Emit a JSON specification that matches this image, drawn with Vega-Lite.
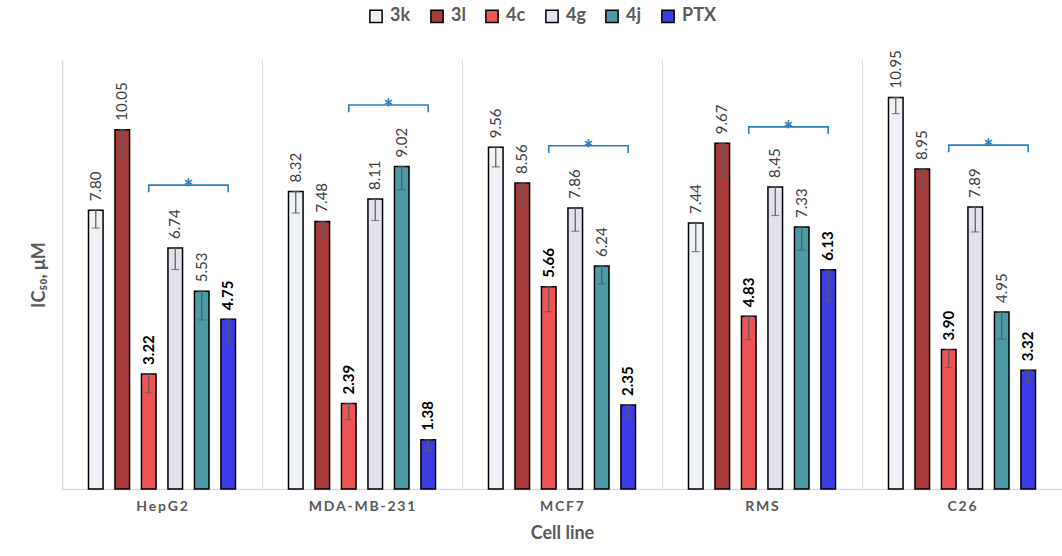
{
  "$schema": "https://vega.github.io/schema/vega-lite/v6.json",
  "width": 1000,
  "height": 429,
  "autosize": {"type": "none"},
  "padding": {"left": 62, "top": 60, "right": 0, "bottom": 67},
  "background": "white",
  "config": {"view": {"stroke": null}, "font": "Lato"},
  "datasets": {
    "bars": [
      {"cell": "HepG2", "compound": "3k", "value": 7.80, "lo": 7.30},
      {"cell": "HepG2", "compound": "3l", "value": 10.05, "lo": 9.30},
      {"cell": "HepG2", "compound": "4c", "value": 3.22, "lo": 2.69},
      {"cell": "HepG2", "compound": "4g", "value": 6.74, "lo": 6.14},
      {"cell": "HepG2", "compound": "4j", "value": 5.53, "lo": 4.73},
      {"cell": "HepG2", "compound": "PTX", "value": 4.75, "lo": 4.08},
      {"cell": "MDA-MB-231", "compound": "3k", "value": 8.32, "lo": 7.72},
      {"cell": "MDA-MB-231", "compound": "3l", "value": 7.48, "lo": 7.08},
      {"cell": "MDA-MB-231", "compound": "4c", "value": 2.39, "lo": 1.94},
      {"cell": "MDA-MB-231", "compound": "4g", "value": 8.11, "lo": 7.51},
      {"cell": "MDA-MB-231", "compound": "4j", "value": 9.02, "lo": 8.37},
      {"cell": "MDA-MB-231", "compound": "PTX", "value": 1.38, "lo": 1.08},
      {"cell": "MCF7", "compound": "3k", "value": 9.56, "lo": 9.01},
      {"cell": "MCF7", "compound": "3l", "value": 8.56, "lo": 7.96},
      {"cell": "MCF7", "compound": "4c", "value": 5.66, "lo": 4.96},
      {"cell": "MCF7", "compound": "4g", "value": 7.86, "lo": 7.21},
      {"cell": "MCF7", "compound": "4j", "value": 6.24, "lo": 5.74},
      {"cell": "MCF7", "compound": "PTX", "value": 2.35, "lo": 1.95},
      {"cell": "RMS", "compound": "3k", "value": 7.44, "lo": 6.64},
      {"cell": "RMS", "compound": "3l", "value": 9.67, "lo": 8.67},
      {"cell": "RMS", "compound": "4c", "value": 4.83, "lo": 4.18},
      {"cell": "RMS", "compound": "4g", "value": 8.45, "lo": 7.65},
      {"cell": "RMS", "compound": "4j", "value": 7.33, "lo": 6.68},
      {"cell": "RMS", "compound": "PTX", "value": 6.13, "lo": 5.28},
      {"cell": "C26", "compound": "3k", "value": 10.95, "lo": 10.50},
      {"cell": "C26", "compound": "3l", "value": 8.95, "lo": 8.45},
      {"cell": "C26", "compound": "4c", "value": 3.90, "lo": 3.40},
      {"cell": "C26", "compound": "4g", "value": 7.89, "lo": 7.19},
      {"cell": "C26", "compound": "4j", "value": 4.95, "lo": 4.20},
      {"cell": "C26", "compound": "PTX", "value": 3.32, "lo": 2.97}
    ],
    "brackets": [
      {"cell": "HepG2", "compound": "4c", "y": 8.30, "ord": 1},
      {"cell": "HepG2", "compound": "4c", "y": 8.50, "ord": 2},
      {"cell": "HepG2", "compound": "PTX", "y": 8.50, "ord": 3},
      {"cell": "HepG2", "compound": "PTX", "y": 8.30, "ord": 4},
      {"cell": "MDA-MB-231", "compound": "4c", "y": 10.54, "ord": 1},
      {"cell": "MDA-MB-231", "compound": "4c", "y": 10.74, "ord": 2},
      {"cell": "MDA-MB-231", "compound": "PTX", "y": 10.74, "ord": 3},
      {"cell": "MDA-MB-231", "compound": "PTX", "y": 10.54, "ord": 4},
      {"cell": "MCF7", "compound": "4c", "y": 9.40, "ord": 1},
      {"cell": "MCF7", "compound": "4c", "y": 9.60, "ord": 2},
      {"cell": "MCF7", "compound": "PTX", "y": 9.60, "ord": 3},
      {"cell": "MCF7", "compound": "PTX", "y": 9.40, "ord": 4},
      {"cell": "RMS", "compound": "4c", "y": 9.93, "ord": 1},
      {"cell": "RMS", "compound": "4c", "y": 10.13, "ord": 2},
      {"cell": "RMS", "compound": "PTX", "y": 10.13, "ord": 3},
      {"cell": "RMS", "compound": "PTX", "y": 9.93, "ord": 4},
      {"cell": "C26", "compound": "4c", "y": 9.42, "ord": 1},
      {"cell": "C26", "compound": "4c", "y": 9.62, "ord": 2},
      {"cell": "C26", "compound": "PTX", "y": 9.62, "ord": 3},
      {"cell": "C26", "compound": "PTX", "y": 9.42, "ord": 4}
    ],
    "stars": [
      {"cell": "HepG2", "compound": "4g", "y": 8.50},
      {"cell": "MDA-MB-231", "compound": "4g", "y": 10.74},
      {"cell": "MCF7", "compound": "4g", "y": 9.60},
      {"cell": "RMS", "compound": "4g", "y": 10.13},
      {"cell": "C26", "compound": "4g", "y": 9.62}
    ]
  },
  "encoding": {
    "x": {
      "field": "cell",
      "type": "nominal",
      "sort": ["HepG2", "MDA-MB-231", "MCF7", "RMS", "C26"],
      "scale": {"paddingInner": 0, "paddingOuter": 0},
      "axis": {
        "title": "Cell line",
        "titleFontSize": 18,
        "titleFontWeight": "bold",
        "titleColor": "#595959",
        "titlePadding": 11,
        "labelAngle": 0,
        "labelFontSize": 14,
        "labelFontWeight": "bold",
        "labelColor": "#595959",
        "labelPadding": 10,
        "labelExpr": "join(split(datum.label, ''), '\u2009')",
        "bandPosition": 0,
        "ticks": false,
        "grid": true,
        "gridColor": "#d9d9d9",
        "gridWidth": 1,
        "domainColor": "#d9d9d9",
        "domainWidth": 1.5
      }
    },
    "xOffset": {
      "field": "compound",
      "type": "nominal",
      "sort": ["3k", "3l", "4c", "4g", "4j", "PTX"],
      "scale": {"paddingInner": 0.45, "paddingOuter": 1.13}
    }
  },
  "layer": [
    {
      "data": {"name": "bars"},
      "mark": {"type": "bar", "stroke": "black", "strokeWidth": 1.5},
      "encoding": {
        "y": {
          "field": "value",
          "type": "quantitative",
          "scale": {"domain": [0, 12], "nice": false},
          "axis": {
            "title": "IC₅₀, μM",
            "titleFontSize": 18,
            "titleFontWeight": "bold",
            "titleColor": "#595959",
            "titlePadding": 14,
            "labels": false,
            "ticks": false,
            "grid": false,
            "domainColor": "#d9d9d9",
            "domainWidth": 1.5
          }
        },
        "fill": {
          "field": "compound",
          "type": "nominal",
          "scale": {
            "domain": ["3k", "3l", "4c", "4g", "4j", "PTX"],
            "range": ["#eef1f6", "#a83c3c", "#f05454", "#e4e0ee", "#4a9ba6", "#3c3ce6"]
          },
          "legend": {
            "orient": "none",
            "direction": "horizontal",
            "legendX": 305,
            "legendY": -53,
            "title": null,
            "symbolType": "square",
            "symbolSize": 150,
            "symbolStrokeColor": "black",
            "symbolStrokeWidth": 1.5,
            "symbolOpacity": 1,
            "labelFontSize": 18,
            "labelFontWeight": "bold",
            "labelColor": "#595959",
            "labelOffset": 5,
            "columnPadding": 16
          }
        }
      }
    },
    {
      "data": {"name": "bars"},
      "mark": {"type": "rule", "color": "#595959", "strokeWidth": 1.2},
      "encoding": {
        "y": {"field": "lo", "type": "quantitative"},
        "y2": {"field": "value"}
      }
    },
    {
      "data": {"name": "bars"},
      "mark": {"type": "tick", "color": "#595959", "thickness": 1.2, "size": 8},
      "encoding": {"y": {"field": "lo", "type": "quantitative"}}
    },
    {
      "data": {"name": "bars"},
      "mark": {"type": "tick", "color": "#595959", "thickness": 1.2, "size": 8},
      "encoding": {"y": {"field": "value", "type": "quantitative"}}
    },
    {
      "data": {"name": "bars"},
      "transform": [{"filter": {"not": {"field": "compound", "oneOf": ["4c", "PTX"]}}}],
      "mark": {"type": "text", "angle": 270, "align": "left", "baseline": "middle", "dx": 9, "fontSize": 15, "color": "#404040"},
      "encoding": {
        "y": {"field": "value", "type": "quantitative"},
        "text": {"field": "value", "type": "quantitative", "format": ".2f"}
      }
    },
    {
      "data": {"name": "bars"},
      "transform": [{"filter": {"field": "compound", "oneOf": ["4c", "PTX"]}}],
      "mark": {"type": "text", "angle": 270, "align": "left", "baseline": "middle", "dx": 9, "fontSize": 15, "fontWeight": "bold", "color": "black"},
      "encoding": {
        "y": {"field": "value", "type": "quantitative"},
        "text": {"field": "value", "type": "quantitative", "format": ".2f"}
      }
    },
    {
      "data": {"name": "brackets"},
      "mark": {"type": "line", "color": "#2a7fc4", "strokeWidth": 1.6, "interpolate": "linear"},
      "encoding": {
        "y": {"field": "y", "type": "quantitative"},
        "detail": {"field": "cell"},
        "order": {"field": "ord", "type": "quantitative"}
      }
    },
    {
      "data": {"name": "stars"},
      "mark": {"type": "text", "text": "*", "color": "#2a7fc4", "fontSize": 24, "fontWeight": "bold", "align": "center", "baseline": "alphabetic", "dx": 13, "dy": 12},
      "encoding": {
        "y": {"field": "y", "type": "quantitative"}
      }
    }
  ]
}
